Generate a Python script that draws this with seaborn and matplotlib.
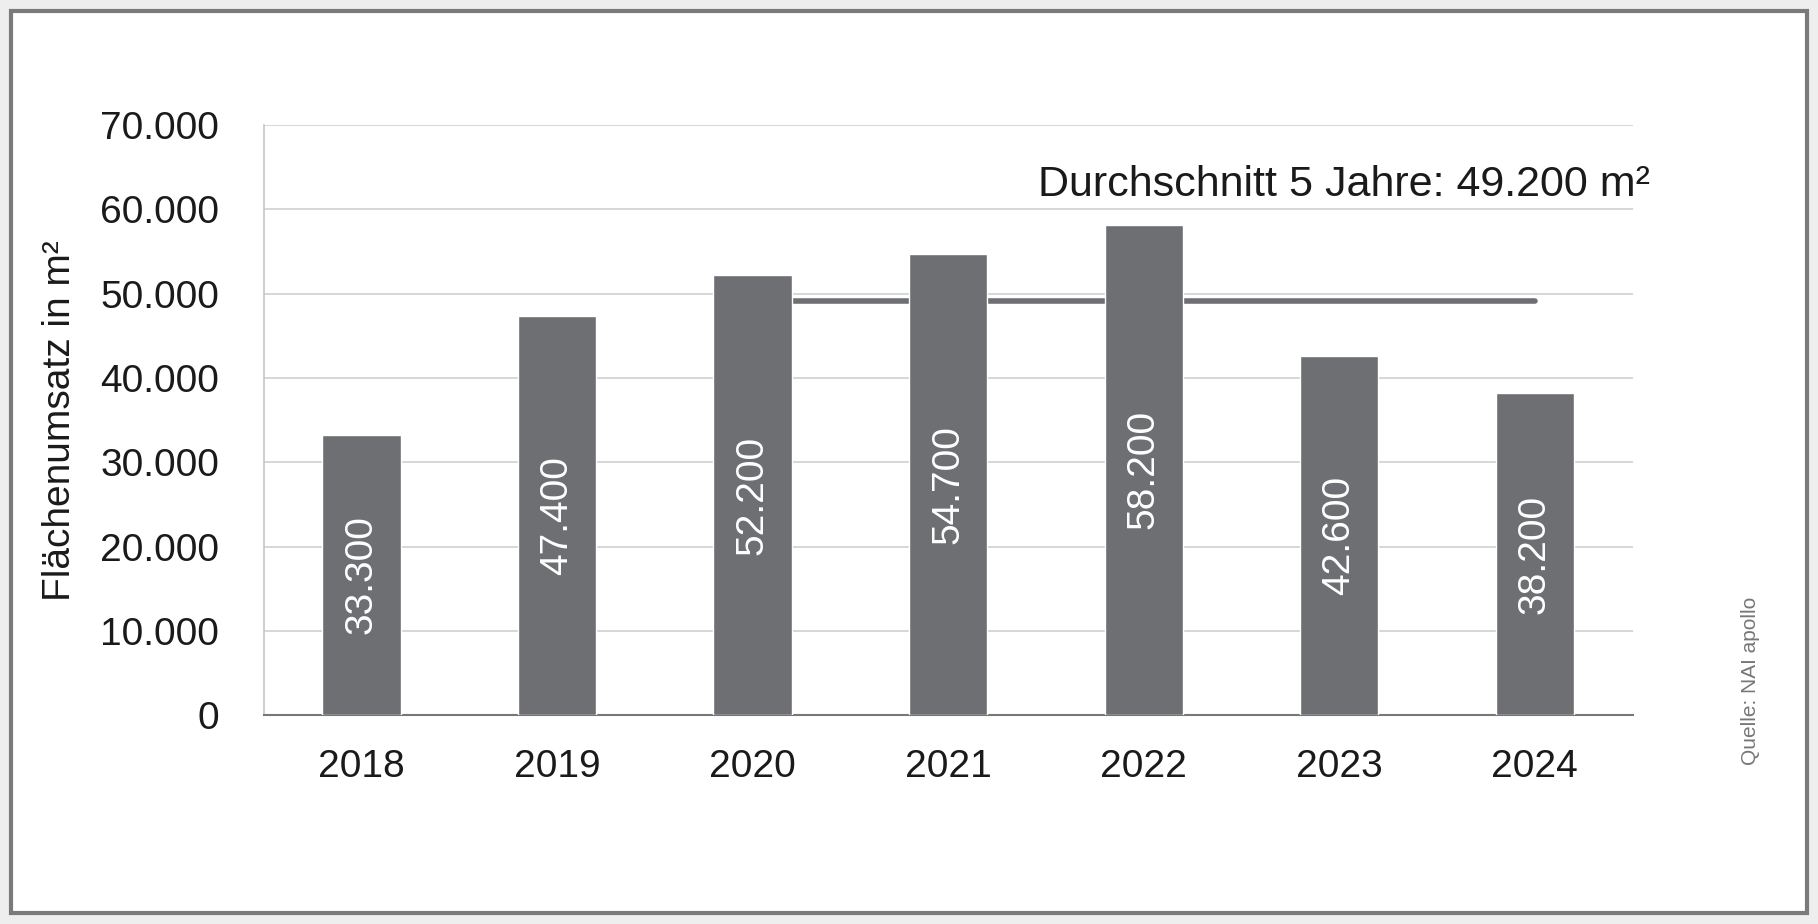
import matplotlib
matplotlib.use("Agg")
import matplotlib.pyplot as plt
import seaborn as sns
import pandas as pd
from matplotlib.patches import Rectangle

years = ["2018", "2019", "2020", "2021", "2022", "2023", "2024"]
values = [33300, 47400, 52200, 54700, 58200, 42600, 38200]
avg_value = 49200
avg_years = ["2020", "2021", "2022", "2023", "2024"]
yticks = [0, 10000, 20000, 30000, 40000, 50000, 60000, 70000]

def fmt(v):
    return f"{v:,}".replace(",", ".")

sns.set_theme(style="white")
plt.rcParams['font.family'] = ['Liberation Sans', 'DejaVu Sans']

bar_color = "#6d6f72"
fig = plt.figure(figsize=(18.18, 9.24), dpi=100, facecolor="#eeeeee")
fig.patches.append(Rectangle((0.006, 0.012), 0.988, 0.976, transform=fig.transFigure,
                             facecolor="white", edgecolor="#7a7a7a", linewidth=3, zorder=-10))
ax = fig.add_axes([0.145, 0.226, 0.753, 0.6385])
ax.set_facecolor("white")
df = pd.DataFrame({"year": years, "value": values})
sns.barplot(data=df, x="year", y="value", color=bar_color, width=0.4, ax=ax,
            saturation=1, zorder=3)
xi = [years.index(y) for y in avg_years]
ax.plot(xi, [avg_value] * len(xi), color=bar_color, linewidth=4, zorder=2)
ax.text(3.46, 62900, f"Durchschnitt 5 Jahre: {fmt(avg_value)} m²", ha="left", va="center",
        fontsize=31, color="#1a1a1a", clip_on=False)
for i, v in enumerate(values):
    ax.text(i, v / 2, fmt(v), rotation=90, ha="center", va="center", color="white",
            fontsize=28, zorder=4)
ax.set_ylim(0, 70000)
ax.set_xlim(-0.5, 6.5)
ax.set_yticks(yticks)
ax.set_yticklabels([fmt(t) for t in yticks], fontsize=28, color="#1a1a1a")
ax.tick_params(axis="x", labelsize=28, colors="#1a1a1a", length=0, pad=24)
ax.tick_params(axis="y", length=0, pad=32)
ax.yaxis.grid(True, color="#d0d0d0", linewidth=1.2, zorder=0)
ax.set_axisbelow(True)
ax.set_xlabel("")
ax.set_ylabel("Flächenumsatz in m²", fontsize=28, color="#1a1a1a", labelpad=16)
for s in ["top", "right"]:
    ax.spines[s].set_visible(False)
ax.spines["left"].set_color("#c8c8c8")
ax.spines["bottom"].set_color("#777777")
ax.spines["bottom"].set_linewidth(1.5)
fig.text(0.963, 0.172, "Quelle: NAI apollo", rotation=90, ha="center", va="bottom",
         fontsize=15, color="#777777")
fig.savefig("out.png", dpi=100, facecolor=fig.get_facecolor())
